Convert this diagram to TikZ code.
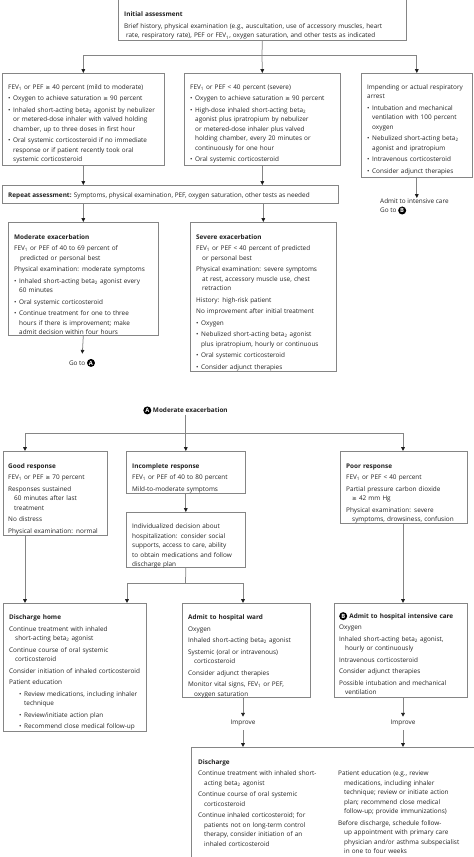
\documentclass[tikz,border=0pt]{standalone}
\usepackage{fontspec}
\setmainfont{Open Sans}
\newfontfamily\dvs{DejaVu Sans}
\usetikzlibrary{arrows.meta}
\definecolor{boxc}{HTML}{858585}
\definecolor{txtc}{HTML}{222222}
\newlength\hi \setlength\hi{6pt}
\newlength\bi \setlength\bi{5pt}
\newlength\si \setlength\si{10pt}
\setlength{\parindent}{0pt}
\newcommand\fs{\fontsize{6.4}{9.5}\selectfont\setlength{\parskip}{2pt}\setlength{\parindent}{0pt}}
\newcommand\nl{\newline}
\newcommand\gesym{{\dvs\fontsize{5.6}{9.5}\selectfont ≥}}
\newcommand\FEV{FEV\textsubscript{1}}
\newcommand\btwo{beta\textsubscript{2}}
\newcommand\rs{\rule{0pt}{4.8pt}}
\newcommand\hd[1]{\par\noindent\rs\textbf{#1}\par}
\newcommand\pp[2][\hi]{\par\noindent\rs\hangindent=#1\hangafter=1 #2\par}
\newcommand\bu[1]{\par\noindent\rs\hangindent=\bi\hangafter=1 \makebox[\bi][l]{\textbullet}#1\par}
\newcommand\sbu[1]{\par\noindent\rs\hangindent=\dimexpr\si+\bi\relax\hangafter=1 \hspace*{\si}\makebox[\bi][l]{\textbullet}#1\par}
\newcommand\mk[1]{\tikz[baseline=(mk.base)]\node[circle,fill=black,text=white,inner sep=0pt,minimum size=8pt,font=\fontsize{5.8}{6}\selectfont\bfseries] (mk) {#1};}
\begin{document}
\begin{tikzpicture}[x=1pt,y=-1pt,
 box/.style={draw=boxc, line width=0.65pt, anchor=north west, inner sep=0pt},
 tx/.style={anchor=north west, inner sep=0pt, text width=#1, align=left, font=\fs, text=txtc},
 tx0/.style={inner sep=0pt, align=left, font=\fs, text=txtc},
 ln/.style={draw=boxc, line width=0.75pt},
 arr/.style={ln, -{Triangle[width=3.6pt,length=3.8pt,color=txtc]}}]
\useasboundingbox (0,0) rectangle (474,857);
% ---------- top ----------
\node[box, minimum width=288pt, minimum height=42pt] (init) at (118,-2) {};
\node[tx=282pt] (initt) at (124,5.2) {\hd{Initial assessment}\pp[2pt]{Brief history, physical examination (e.g., auscultation, use of accessory muscles, heart\nl rate, respiratory rate), PEF or \FEV, oxygen saturation, and other tests as indicated}};

\node[box, minimum width=162pt, minimum height=92pt] (mild) at (2,73) {};
\node[tx=156pt] (mildt) at (8,77.5) {\pp{\FEV{} or PEF \gesym{} 40 percent (mild to moderate)}
\bu{Oxygen to achieve saturation \gesym{} 90 percent}
\bu{Inhaled short-acting \btwo{} agonist by nebulizer\nl or metered-dose inhaler with valved holding\nl chamber, up to three doses in first hour}
\bu{Oral systemic corticosteroid if no immediate\nl response or if patient recently took oral\nl systemic corticosteroid}};

\node[box, minimum width=156pt, minimum height=92pt] (severe1) at (184,73) {};
\node[tx=150pt] (severe1t) at (190,77.5) {\pp{\FEV{} or PEF < 40 percent (severe)}
\bu{Oxygen to achieve saturation \gesym{} 90 percent}
\bu{High-dose inhaled short-acting \btwo\nl agonist plus ipratropium by nebulizer\nl or metered-dose inhaler plus valved\nl holding chamber, every 20 minutes or\nl continuously for one hour}
\bu{Oral systemic corticosteroid}};

\node[box, minimum width=111pt, minimum height=104pt] (arrest) at (361,73) {};
\node[tx=106pt] (arrestt) at (367,77.5) {\pp[0pt]{Impending or actual respiratory\nl arrest}
\bu{Intubation and mechanical\nl ventilation with 100 percent\nl oxygen}
\bu{Nebulized short-acting \btwo\nl agonist and ipratropium}
\bu{Intravenous corticosteroid}
\bu{Consider adjunct therapies}};

\node[tx0, anchor=north west] (admitic) at (380,198) {Admit to intensive care\\Go to \mk{B}};

\node[box, minimum width=336pt, minimum height=18pt] (rep) at (2,185) {};
\node[tx0, anchor=base west] (rept) at (8,197) {\textbf{Repeat assessment:} Symptoms, physical examination, PEF, oxygen saturation, other tests as needed};

\node[box, minimum width=150pt, minimum height=113pt] (mod) at (8,222) {};
\node[tx=144pt] (modt) at (14,227.5) {\hd{Moderate exacerbation}
\pp{\FEV{} or PEF of 40 to 69 percent of\nl predicted or personal best}
\pp{Physical examination: moderate symptoms}
\bu{Inhaled short-acting \btwo{} agonist every\nl 60 minutes}
\bu{Oral systemic corticosteroid}
\bu{Continue treatment for one to three\nl hours if there is improvement; make\nl admit decision within four hours}};

\node[tx0, anchor=base] (gotoA) at (82,365) {Go to \mk{A}};

\node[box, minimum width=146pt, minimum height=149pt] (sev) at (190,222) {};
\node[tx=140pt] (sevt) at (196,227.5) {\hd{Severe exacerbation}
\pp{\FEV{} or PEF < 40 percent of predicted\nl or personal best}
\pp{Physical examination: severe symptoms\nl at rest, accessory muscle use, chest\nl retraction}
\pp{History: high-risk patient}
\pp{No improvement after initial treatment}
\bu{Oxygen}
\bu{Nebulized short-acting \btwo{} agonist\nl plus ipratropium, hourly or continuous}
\bu{Oral systemic corticosteroid}
\bu{Consider adjunct therapies}};

% ---------- connectors top ----------
\coordinate (j1) at (262,55);
\draw[ln] (init.south) -- (j1);
\draw[arr] (j1) -| (mild.north);
\draw[arr] (j1) -- (severe1.north);
\draw[arr] (j1) -| (arrest.north);
\draw[arr] (mild.south) -- (mild.south |- rep.north);
\draw[arr] (severe1.south) -- (severe1.south |- rep.north);
\draw[arr] (rep.south -| mod.north) -- (mod.north);
\draw[arr] (rep.south -| sev.north) -- (sev.north);
\draw[arr] (arrest.south) -- (arrest.south |- admitic.north);
\draw[arr, shorten >=5pt] (mod.south) -- (gotoA.north);

% ---------- lower ----------
\node[tx0, anchor=base] (lblA) at (185.5,412.5) {\mk{A} \textbf{Moderate exacerbation}};

\node[box, minimum width=104pt, minimum height=84pt] (good) at (3,451) {};
\node[tx=100pt] (goodt) at (8,456.5) {\hd{Good response}
\pp{\FEV{} or PEF \gesym{} 70 percent}
\pp{Responses sustained\nl 60 minutes after last\nl treatment}
\pp{No distress}
\pp{Physical examination: normal}};

\node[box, minimum width=119pt, minimum height=42pt] (inc) at (126,451) {};
\node[tx=114pt] (inct) at (132,456.5) {\hd{Incomplete response}
\pp{\FEV{} or PEF of 40 to 80 percent}
\pp{Mild-to-moderate symptoms}};

\node[box, minimum width=119pt, minimum height=55pt] (indiv) at (126,512) {};
\node[tx=114pt] (indivt) at (132,517) {\pp[0pt]{Individualized decision about\nl hospitalization: consider social\nl supports, access to care, ability\nl to obtain medications and follow\nl discharge plan}};

\node[box, minimum width=127pt, minimum height=72pt] (poor) at (340,451) {};
\node[tx=122pt] (poort) at (346,456.5) {\hd{Poor response}
\pp{\FEV{} or PEF < 40 percent}
\pp{Partial pressure carbon dioxide\nl \gesym{} 42 mm Hg}
\pp{Physical examination: severe\nl symptoms, drowsiness, confusion}};

\node[box, minimum width=143pt, minimum height=128pt] (home) at (3,603) {};
\node[tx=138pt] (homet) at (9,608) {\hd{Discharge home}
\pp{Continue treatment with inhaled\nl short-acting \btwo{} agonist}
\pp{Continue course of oral systemic\nl corticosteroid}
\pp{Consider initiation of inhaled corticosteroid}
\pp{Patient education}
\sbu{Review medications, including inhaler\nl technique}
\sbu{Review/initiate action plan}
\sbu{Recommend close medical follow-up}};

\node[box, minimum width=128pt, minimum height=94pt] (ward) at (182,603) {};
\node[tx=123pt] (wardt) at (188,608) {\hd{Admit to hospital ward}
\pp{Oxygen}
\pp{Inhaled short-acting \btwo{} agonist}
\pp{Systemic (oral or intravenous)\nl corticosteroid}
\pp{Consider adjunct therapies}
\pp{Monitor vital signs, \FEV{} or PEF,\nl oxygen saturation}};

\node[box, minimum width=133pt, minimum height=94pt] (icu) at (334,603) {};
\node[tx=129pt] (icut) at (339,606.5) {\hd{\mk{B}\,\,Admit to hospital intensive care}
\pp{Oxygen}
\pp{Inhaled short-acting \btwo{} agonist,\nl hourly or continuously}
\pp{Intravenous corticosteroid}
\pp{Consider adjunct therapies}
\pp{Possible intubation and mechanical\nl ventilation}};

\node[tx0] (imp1) at (243,723) {Improve};
\node[tx0] (imp2) at (403,723) {Improve};

\node[box, minimum width=290pt, minimum height=120pt] (dis) at (191,747) {};
\node[tx=136pt] (dist1) at (198,752.5) {\hd{Discharge}
\pp{Continue treatment with inhaled short-\nl acting \btwo{} agonist}
\pp{Continue course of oral systemic\nl corticosteroid}
\pp{Continue inhaled corticosteroid; for\nl patients not on long-term control\nl therapy, consider initiation of an\nl inhaled corticosteroid}};
\node[tx=134pt] (dist2) at (338,764) {\pp{Patient education (e.g., review\nl medications, including inhaler\nl technique; review or initiate action\nl plan; recommend close medical\nl follow-up; provide immunizations)}
\pp{Before discharge, schedule follow-\nl up appointment with primary care\nl physician and/or asthma subspecialist\nl in one to four weeks}};

% ---------- connectors lower ----------
\coordinate (cg) at (25,433);
\coordinate (cp) at (403,433);
\draw[ln] (lblA.south -| inc.north) -- (inc.north |- cg);
\draw[ln] (cg) -- (cp);
\draw[arr] (cg) -- (cg |- good.north);
\draw[arr] (inc.north |- cg) -- (inc.north);
\draw[arr] (cp) -- (cp |- poor.north);
\draw[arr] (inc.south) -- (indiv.north);
\draw[arr] (good.south -| cg) -- (home.north -| cg);
\coordinate (ci) at (185.5,583);
\coordinate (cl) at (127,583);
\coordinate (cr) at (243,583);
\draw[ln] (indiv.south) -- (ci);
\draw[ln] (cl) -- (cr);
\draw[arr] (cl) -- (cl |- home.north);
\draw[arr] (cr) -- (cr |- ward.north);
\draw[arr] (poor.south -| cp) -- (icu.north -| cp);
\draw[arr, shorten >=3pt] (ward.south -| cr) -- (imp1.north);
\draw[arr, shorten <=4pt] (imp1.south) -- (imp1.south |- dis.north);
\draw[arr, shorten >=3pt] (icu.south -| cp) -- (imp2.north);
\draw[arr, shorten <=4pt] (imp2.south) -- (imp2.south |- dis.north);
\end{tikzpicture}
\end{document}
